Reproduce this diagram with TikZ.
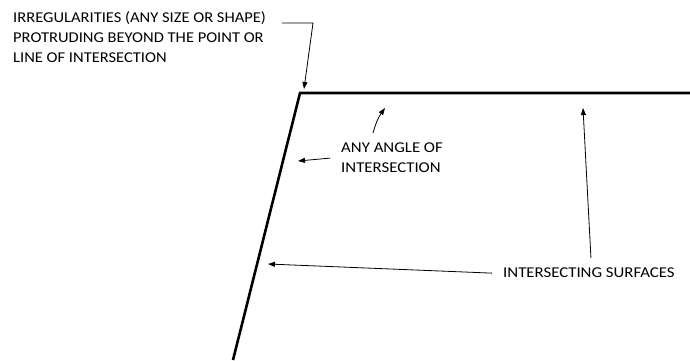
\documentclass[tikz,border=0pt]{standalone}
\usepackage{fontspec}
\setmainfont{Carlito}
\newfontfamily\irrfont[FakeStretch=1.1]{Carlito}
\newfontfamily\labelfont[FakeStretch=1.12]{Carlito}
\usetikzlibrary{positioning, arrows.meta}

\begin{document}
\begin{tikzpicture}[
  x=1pt, y=-1pt,
  font=\labelfont\fontsize{15}{20}\selectfont,
  note/.style={anchor=north west, inner sep=0pt, align=left},
  edge/.style={line width=2.6pt},
  arr/.style={-{Triangle[length=7pt, width=5pt]}, line width=0.8pt}
]
  \useasboundingbox (0,0) rectangle (690,360);

  % Kontur spoja
  \coordinate (corner) at (300,93);
  \coordinate (topend) at (690,93);
  \coordinate (botend) at (233,360);
  \draw[edge] (botend) -- (corner) -- (topend);

  % Tocke na koje pokazuju strelice
  \coordinate (elbow) at (313,23);
  \coordinate (tipcorner) at (304,89);
  \coordinate (tipside) at (298,161);
  \coordinate (tiptop) at (385,108);
  \coordinate (tipsurfside) at (268,264);
  \coordinate (tipsurftop) at (583,108);

  % Natpisi
  \node[note, font=\irrfont\fontsize{15}{20}\selectfont] (irr) at (13,11)
    {IRREGULARITIES (ANY SIZE OR SHAPE)\\PROTRUDING BEYOND THE POINT OR\\LINE OF INTERSECTION};
  \node[note] (ang) at (341,143) {ANY ANGLE OF\\INTERSECTION};
  \node[note] (surf) at (503,268) {INTERSECTING SURFACES};

  % Strelice
  \draw[arr] (irr.east |- elbow) ++(16,0) -- (elbow) -- (tipcorner);
  \draw[arr] ([xshift=-11pt]ang.west) -- (tipside);
  \draw[arr] (ang.north west) ++(32,-10) to[bend left=10] (tiptop);
  \draw[arr] ([xshift=-11pt]surf.west) -- (tipsurfside);
  \draw[arr] (surf.north) ++(2,-10) -- (tipsurftop);
\end{tikzpicture}
\end{document}
